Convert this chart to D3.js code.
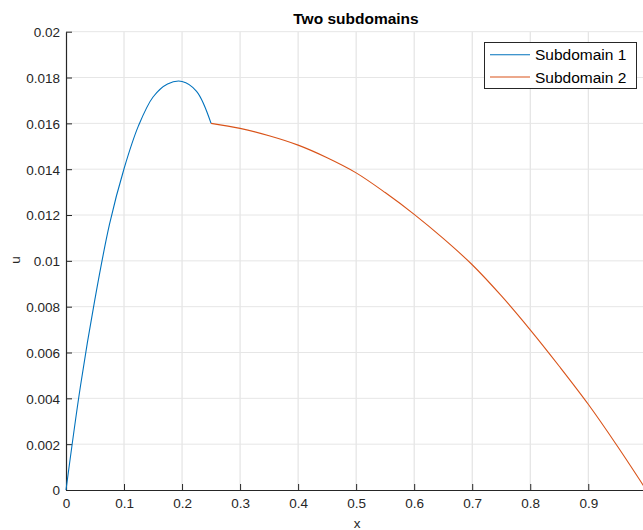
<!DOCTYPE html>
<html>
<head>
<meta charset="utf-8">
<script src="https://cdn.jsdelivr.net/npm/d3@7"></script>
<style>
  body { margin: 0; background: #fff; }
  svg { display: block; font-family: "Liberation Sans", Arial, sans-serif; }
</style>
</head>
<body>
<svg width="643" height="530"></svg>
<script>
// values
const sub1X = [0, 0.025, 0.05, 0.075, 0.1, 0.125, 0.15, 0.175, 0.2, 0.225, 0.25];
const sub1U = [0, 0.00455, 0.00835, 0.0116, 0.01402, 0.0159, 0.01715, 0.01772, 0.01783, 0.0174, 0.016];
const sub2X = [0.25, 0.3, 0.35, 0.4, 0.45, 0.5, 0.55, 0.6, 0.65, 0.7, 0.75, 0.8, 0.85, 0.9, 0.95, 1.0];
const sub2U = [0.016, 0.01578, 0.01546, 0.01505, 0.0145, 0.01384, 0.01298, 0.01203, 0.01098, 0.00983, 0.00848, 0.00699, 0.0054, 0.00374, 0.00192, 0];
const xTicks = [0, 0.1, 0.2, 0.3, 0.4, 0.5, 0.6, 0.7, 0.8, 0.9];
const yTicks = [0, 0.002, 0.004, 0.006, 0.008, 0.01, 0.012, 0.014, 0.016, 0.018, 0.02];
const seriesNames = ['Subdomain 1', 'Subdomain 2'];
const seriesColors = ['#0072BD', '#D95319'];

function drawChart() {
    const svg = d3.select("svg");
    const x = d3.scaleLinear().domain([0, 1]).range([66, 646.3]);
    const y = d3.scaleLinear().domain([0, 0.02]).range([490, 31.7]);
    const axisColor = '#262626';

    // grid
    svg.append("g")
        .selectAll("line")
        .data(xTicks.slice(1).concat([1]))
        .enter()
        .append("line")
        .attr("x1", d => x(d)).attr("x2", d => x(d))
        .attr("y1", y(0)).attr("y2", y(0.02))
        .attr("stroke", "#dedede");
    svg.append("g")
        .selectAll("line")
        .data(yTicks.slice(1))
        .enter()
        .append("line")
        .attr("x1", x(0)).attr("x2", x(1))
        .attr("y1", d => y(d)).attr("y2", d => y(d))
        .attr("stroke", "#e6e6e6");

    // axes
    const xAxis = svg.append("g")
        .attr("transform", `translate(0,${y(0)})`)
        .call(d3.axisBottom(x).tickValues(xTicks).tickSizeInner(-6).tickSizeOuter(0).tickPadding(8).tickFormat(d3.format("")));
    const yAxis = svg.append("g")
        .attr("transform", `translate(${x(0)},0)`)
        .call(d3.axisLeft(y).tickValues(yTicks).tickSizeInner(-6).tickSizeOuter(0).tickPadding(6).tickFormat(d3.format("")));

    [xAxis, yAxis].forEach(g => {
        g.select(".domain").attr("stroke", axisColor).attr("stroke-width", 1.2);
        g.selectAll(".tick line").attr("stroke", axisColor);
        g.selectAll("text").attr("fill", axisColor).style("font-size", "13.5px").style("font-family", "Liberation Sans, Arial, sans-serif");
    });
    xAxis.selectAll("text").attr("dy", "0.71em");
    yAxis.selectAll("text").attr("dy", "0.36em");

    // lines
    const line = d3.line()
        .x(d => x(d[0]))
        .y(d => y(d[1]))
        .curve(d3.curveCatmullRom.alpha(0.5));
    const series = [d3.zip(sub1X, sub1U), d3.zip(sub2X, sub2U)];
    svg.append("g")
        .selectAll("path")
        .data(series)
        .enter()
        .append("path")
        .attr("d", line)
        .attr("fill", "none")
        .attr("stroke", (d, i) => seriesColors[i])
        .attr("stroke-width", 1.1);

    // labels
    svg.append("text")
        .attr("x", 356).attr("y", 24)
        .attr("text-anchor", "middle")
        .attr("font-weight", "bold")
        .attr("font-size", "15.5px")
        .attr("fill", "#000")
        .text("Two subdomains");
    svg.append("text")
        .attr("x", 357).attr("y", 527.5)
        .attr("text-anchor", "middle")
        .attr("font-size", "13.5px")
        .attr("fill", axisColor)
        .text("x");
    svg.append("text")
        .attr("transform", "translate(20,260) rotate(-90)")
        .attr("text-anchor", "middle")
        .attr("font-size", "13.5px")
        .attr("fill", axisColor)
        .text("u");

    // legend
    const legend = svg.append("g");
    legend.append("rect")
        .attr("x", 484.5).attr("y", 42.5)
        .attr("width", 152).attr("height", 46)
        .attr("fill", "#fff")
        .attr("stroke", axisColor);
    const item = legend.selectAll(".item")
        .data(seriesNames)
        .enter()
        .append("g")
        .attr("transform", (d, i) => `translate(0,${54.7 + i * 22.3})`);
    item.append("line")
        .attr("x1", 490).attr("x2", 530)
        .attr("stroke", (d, i) => seriesColors[i])
        .attr("stroke-width", 1.1);
    item.append("text")
        .attr("x", 535).attr("dy", "0.36em")
        .attr("font-size", "15.5px")
        .attr("fill", "#000")
        .text(d => d);
}

drawChart();
</script>
</body>
</html>
